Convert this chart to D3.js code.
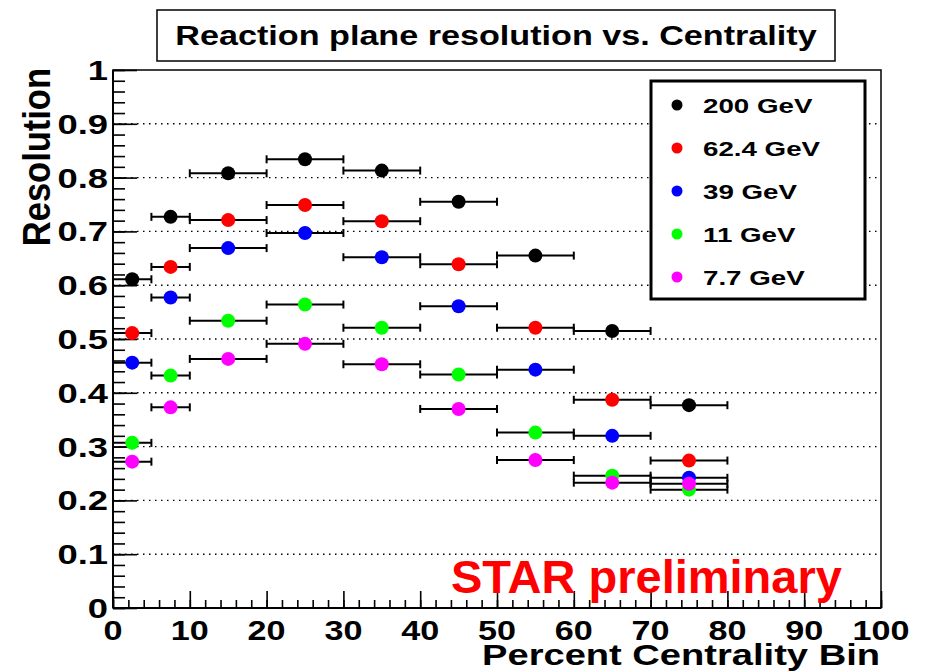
<!DOCTYPE html>
<meta charset="utf-8">
<html>
<style>
body { margin:0; background:#fff; }
text { font-family: "Liberation Sans", Arial, sans-serif; font-weight: bold; fill:#000; }
.grid line { stroke:#000; stroke-width:1.4; stroke-dasharray:1.5,4.5; }
.axis path { display:none; }
.axis line { stroke:#000; stroke-width:1.6; }
</style>
<body>
<script src="https://d3js.org/d3.v7.min.js"></script>
<script>
var width = 931, height = 671;
var x0 = 113, x1 = 881, yTop = 70, yBot = 608;

// centrality bins (percent)
var binLo = [0, 5, 10, 20, 30, 40, 50, 60, 70];
var binHi = [5, 10, 20, 30, 40, 50, 60, 70, 80];
var binMid = [2.5, 7.5, 15, 25, 35, 45, 55, 65, 75];

// resolution per energy
var res200 = [0.611, 0.727, 0.808, 0.834, 0.813, 0.755, 0.655, 0.515, 0.377];
var res62 = [0.511, 0.634, 0.721, 0.749, 0.719, 0.639, 0.521, 0.387, 0.274];
var res39 = [0.456, 0.577, 0.669, 0.697, 0.652, 0.561, 0.443, 0.320, 0.242];
var res11 = [0.307, 0.432, 0.534, 0.564, 0.521, 0.434, 0.326, 0.246, 0.220];
var res77 = [0.272, 0.373, 0.463, 0.491, 0.453, 0.370, 0.275, 0.233, 0.231];

var energies = ["200 GeV", "62.4 GeV", "39 GeV", "11 GeV", "7.7 GeV"];
var colors = ["#000000", "#ff0000", "#0000ff", "#00ff00", "#ff00ff"];
var yTicks = [0, 0.1, 0.2, 0.3, 0.4, 0.5, 0.6, 0.7, 0.8, 0.9, 1];
var xTicks = [0, 10, 20, 30, 40, 50, 60, 70, 80, 90, 100];

var series = [res200, res62, res39, res11, res77];

var svg = d3.select("body").append("svg")
    .attr("width", width).attr("height", height);

var x = d3.scaleLinear().domain([0, 100]).range([x0, x1]);
var y = d3.scaleLinear().domain([0, 1]).range([yBot, yTop]);

//grid lines
svg.append("g").attr("class", "grid")
  .selectAll("line").data(yTicks.slice(1, -1)).enter().append("line")
  .attr("x1", x0).attr("x2", x1)
  .attr("y1", d => y(d)).attr("y2", d => y(d));

//frame
svg.append("rect").attr("x", x0).attr("y", yTop)
  .attr("width", x1 - x0).attr("height", yBot - yTop)
  .attr("fill", "none").attr("stroke", "#000").attr("stroke-width", 1.5);

//y axis ticks
svg.append("g").attr("class", "axis").attr("transform", "translate(" + x0 + ",0)")
  .call(d3.axisLeft(y).tickValues(d3.range(0, 1.001, 0.02)).tickSize(-12).tickFormat(""));
svg.append("g").attr("class", "axis").attr("transform", "translate(" + x0 + ",0)")
  .call(d3.axisLeft(y).tickValues(yTicks).tickSize(-24).tickFormat(""));
//x axis ticks
svg.append("g").attr("class", "axis").attr("transform", "translate(0," + yBot + ")")
  .call(d3.axisBottom(x).tickValues(d3.range(0, 100.1, 2)).tickSize(-8).tickFormat(""));
svg.append("g").attr("class", "axis").attr("transform", "translate(0," + yBot + ")")
  .call(d3.axisBottom(x).tickValues(xTicks).tickSize(-17).tickFormat(""));

//axis lines
svg.append("line").attr("x1", x0).attr("x2", x0).attr("y1", yTop).attr("y2", yBot)
  .attr("stroke", "#000").attr("stroke-width", 2);
svg.append("line").attr("x1", x0).attr("x2", x1).attr("y1", yBot).attr("y2", yBot)
  .attr("stroke", "#000").attr("stroke-width", 2);

//tick labels
svg.append("g").selectAll("text").data(yTicks).enter().append("text")
  .attr("transform", d => "translate(" + (x0 - 5) + "," + y(d) + ") scale(1.3,1)")
  .attr("text-anchor", "end").attr("dy", "0.36em")
  .style("font-size", "28px")
  .text(d => d === 0 ? "0" : d === 1 ? "1" : d3.format(".1f")(d));

svg.append("g").selectAll("text").data(xTicks).enter().append("text")
  .attr("transform", d => "translate(" + x(d) + "," + 640 + ") scale(1.22,1)")
  .attr("text-anchor", "middle")
  .style("font-size", "28px")
  .text(d => d);

//axis titles
svg.append("text")
  .attr("transform", "translate(880,665) scale(1.27,1)")
  .attr("text-anchor", "end").style("font-size", "30px")
  .text("Percent Centrality Bin");
svg.append("text")
  .attr("transform", "translate(50,68) rotate(-90) scale(1.15,1.3)")
  .attr("text-anchor", "end").style("font-size", "30px")
  .text("Resolution");

//title box
svg.append("rect").attr("x", 157).attr("y", 10).attr("width", 678).attr("height", 51)
  .attr("fill", "#fff").attr("stroke", "#000").attr("stroke-width", 1.5);
svg.append("text")
  .attr("transform", "translate(496,45) scale(1.22,1)")
  .attr("text-anchor", "middle").style("font-size", "28px")
  .text("Reaction plane resolution vs. Centrality");

//data
series.forEach(function(vals, k) {
  var g = svg.append("g").attr("class", "series");
  var pts = vals.map(function(v, i) { return {lo: binLo[i], hi: binHi[i], mid: binMid[i], v: v}; });
  g.selectAll(".err").data(pts).enter().append("line")
    .attr("x1", d => x(d.lo)).attr("x2", d => x(d.hi))
    .attr("y1", d => y(d.v)).attr("y2", d => y(d.v))
    .attr("stroke", "#000").attr("stroke-width", 2);
  g.selectAll(".capl").data(pts).enter().append("line")
    .attr("x1", d => x(d.lo)).attr("x2", d => x(d.lo))
    .attr("y1", d => y(d.v) - 4).attr("y2", d => y(d.v) + 4)
    .attr("stroke", "#000").attr("stroke-width", 2);
  g.selectAll(".capr").data(pts).enter().append("line")
    .attr("x1", d => x(d.hi)).attr("x2", d => x(d.hi))
    .attr("y1", d => y(d.v) - 4).attr("y2", d => y(d.v) + 4)
    .attr("stroke", "#000").attr("stroke-width", 2);
  g.selectAll("circle").data(pts).enter().append("circle")
    .attr("cx", d => x(d.mid)).attr("cy", d => y(d.v)).attr("r", 7)
    .attr("fill", colors[k]);
});

//legend
var leg = svg.append("g");
leg.append("rect").attr("x", 651).attr("y", 81).attr("width", 214).attr("height", 218)
  .attr("fill", "#fff").attr("stroke", "#000").attr("stroke-width", 3);
var item = leg.selectAll(".item").data(energies).enter().append("g")
  .attr("transform", (d, i) => "translate(0," + (105 + i * 43) + ")");
item.append("circle").attr("cx", 677).attr("cy", 0).attr("r", 5.5)
  .attr("fill", (d, i) => colors[i]);
item.append("text")
  .attr("transform", "translate(703,0) scale(1.32,1)")
  .attr("dy", "0.36em").style("font-size", "21px")
  .text(d => d);

//preliminary label
svg.append("text").attr("x", 451).attr("y", 593)
  .style("font-size", "47px").style("fill", "#ff0000")
  .text("STAR preliminary");
</script>
</body>
</html>
